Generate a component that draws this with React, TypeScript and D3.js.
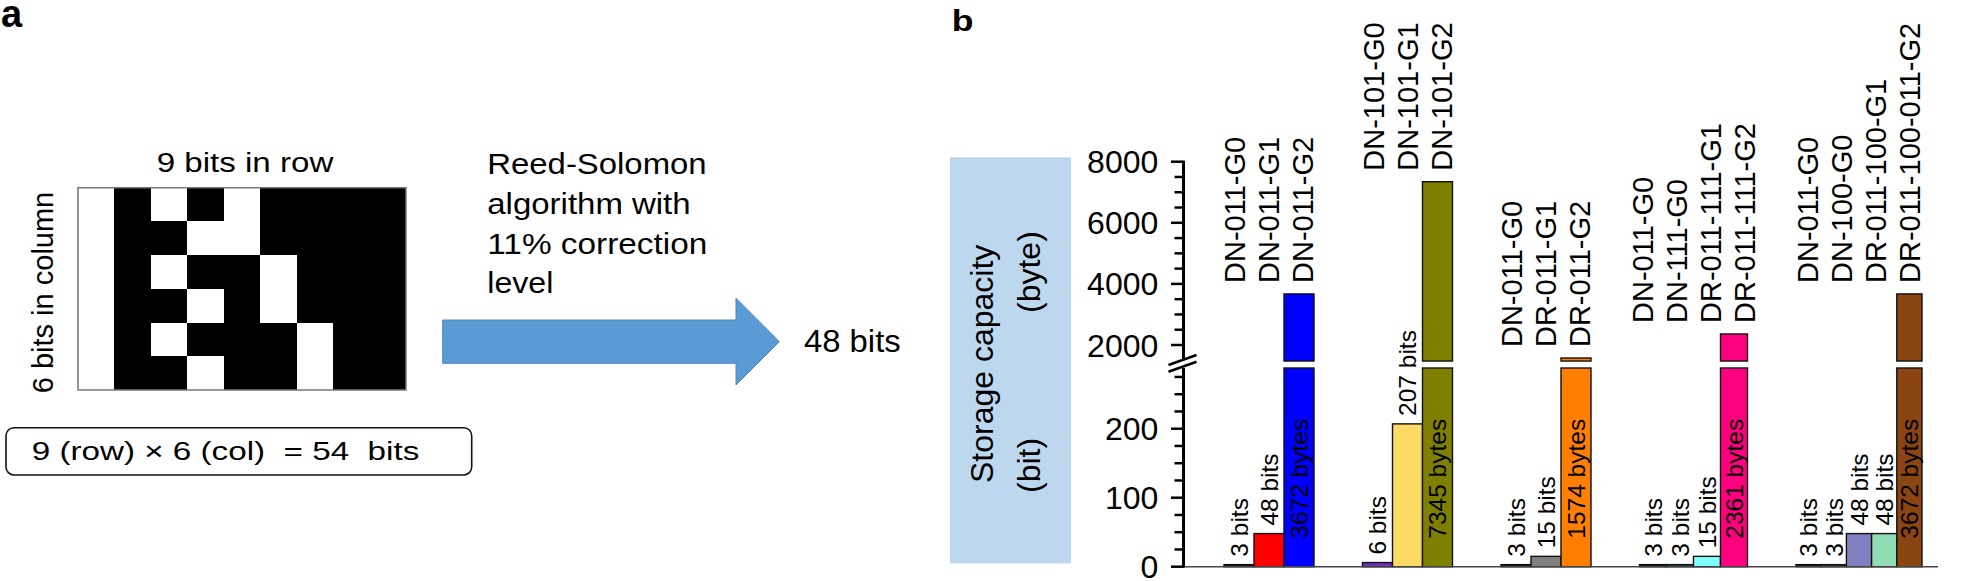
import React from "react";
import * as d3 from "d3";

const FONT = "'Liberation Sans', Arial, Helvetica, sans-serif";

// ---------- panel a data ----------
const bitGrid = [
  "010101111",
  "011001111",
  "010110111",
  "011010111",
  "010111011",
  "011011011",
];
const gridTitle = "9 bits in row";
const gridSideTitle = "6 bits in column";
const gridFormula = "9 (row) \u00d7 6 (col)  = 54  bits";
const rsLines = ["Reed-Solomon", "algorithm with", "11% correction", "level"];
const rsResult = "48 bits";

// ---------- panel b data ----------
const groupKeys = ["DN-011", "DN-101", "DR-011", "DR-011-111", "DR-011-100"];
const groupLabels = [
  ["DN-011-G0", "DN-011-G1", "DN-011-G2"],
  ["DN-101-G0", "DN-101-G1", "DN-101-G2"],
  ["DN-011-G0", "DR-011-G1", "DR-011-G2"],
  ["DN-011-G0", "DN-111-G0", "DR-011-111-G1", "DR-011-111-G2"],
  ["DN-011-G0", "DN-100-G0", "DR-011-100-G1", "DR-011-100-011-G2"],
];
const barValues = [
  [3, 48, 3672],
  [6, 207, 7345],
  [3, 15, 1574],
  [3, 3, 15, 2361],
  [3, 3, 48, 48, 3672],
];
const barUnits = [
  ["bit", "bit", "byte"],
  ["bit", "bit", "byte"],
  ["bit", "bit", "byte"],
  ["bit", "bit", "bit", "byte"],
  ["bit", "bit", "bit", "bit", "byte"],
];
const barColors = [
  ["#1a1a1a", "#ff0000", "#0000ff"],
  ["#7030c0", "#ffd966", "#808000"],
  ["#1a1a1a", "#808080", "#ff8000"],
  ["#1a1a1a", "#1f4f4f", "#80ffff", "#ff0080"],
  ["#1a1a1a", "#4a3030", "#8080c0", "#90dcb5", "#8b4513"],
];
const bitTickLabels = [0, 100, 200];
const byteTickLabels = [2000, 4000, 6000, 8000];
const yTitle = "Storage capacity";
const yUnitTop = "(byte)";
const yUnitBottom = "(bit)";

function HText(props: any) {
  const { x, y, len, size, children, anchor, weight } = props;
  return (
    <text
      x={x}
      y={y}
      fontSize={size}
      fontFamily={FONT}
      fontWeight={weight || "normal"}
      textAnchor={anchor || "start"}
      textLength={len}
      lengthAdjust="spacingAndGlyphs"
      fill="#000"
      style={{ whiteSpace: "pre" }}
    >
      {children}
    </text>
  );
}

function VText(props: any) {
  const { x, y, size, children, anchor, dy } = props;
  return (
    <text
      transform={`translate(${x},${y}) rotate(-90)`}
      fontSize={size}
      fontFamily={FONT}
      textAnchor={anchor || "start"}
      dy={dy === undefined ? "0.36em" : dy}
      fill="#000"
    >
      {children}
    </text>
  );
}

export default function App() {
  const W = 1985;
  const H = 581;

  // ----- panel a -----
  const gx = d3.scaleBand<number>().domain(d3.range(9)).range([78, 406]);
  const gy = d3.scaleBand<number>().domain(d3.range(6)).range([187.7, 390]);

  // ----- panel b scales -----
  const y0 = 566.7;
  const yBit = d3.scaleLinear().domain([0, 288]).range([y0, 368]);
  const yByte = d3.scaleLinear().domain([2000, 8000]).range([345, 161.7]);
  const byteFloor = 1475;
  const bitCeil = 288;
  const axisX = 1183.5;
  const xAxisEnd = 1938;

  const groupStart = 1224;
  const baseW = 90;
  const perExtra = 18;
  const gap = 48.5;
  let cursor = groupStart;
  const groupScales = groupKeys.map((k, gi) => {
    const n = barValues[gi].length;
    const w = baseW + perExtra * (n - 3);
    const s = d3.scaleBand<number>().domain(d3.range(n)).range([cursor, cursor + w]).padding(0);
    cursor += w + gap;
    return s;
  });

  const barTop = (v: number, u: string) => (u === "bit" ? yBit(v) : yByte(v));

  const bitTicks = d3.range(0, 276, 25);
  const byteTicks = d3.range(2000, 8001, 500);

  const gapTop = yByte(byteFloor);
  const gapBot = yBit(bitCeil);
  const gapMid = (gapTop + gapBot) / 2;

  return (
    <svg
      width={W}
      height={H}
      style={{ position: "absolute", left: 0, top: 0, background: "#fff" }}
    >
      <rect x={0} y={0} width={W} height={H} fill="#fff" />

      {/* ================= panel a ================= */}
      <text x={1} y={27} fontSize={38} fontWeight="bold" fontFamily={FONT}>
        a
      </text>

      <HText x={156.7} y={171.7} len={176.6} size={27}>
        {gridTitle}
      </HText>
      <VText x={53} y={292.5} size={29} anchor="middle" dy="0">
        {gridSideTitle}
      </VText>

      <g shapeRendering="crispEdges">
        <rect x={78} y={187.7} width={328} height={202.3} fill="#000" />
        {bitGrid.map((row, ri) =>
          row.split("").map((c, ci) =>
            c === "0" ? (
              <rect
                key={`${ri}-${ci}`}
                x={gx(ci)}
                y={gy(ri)}
                width={gx.bandwidth()}
                height={gy.bandwidth()}
                fill="#fff"
              />
            ) : null
          )
        )}
      </g>
      <rect
        x={78}
        y={187.7}
        width={328}
        height={202.3}
        fill="none"
        stroke="#777"
        strokeWidth={1.5}
      />

      <rect
        x={6}
        y={427.7}
        width={465.7}
        height={47.3}
        rx={8}
        ry={8}
        fill="#fff"
        stroke="#111"
        strokeWidth={1.6}
      />
      <HText x={31.7} y={460} len={387.6} size={26.5}>
        {gridFormula}
      </HText>

      {rsLines.map((l, i) => (
        <HText
          key={l}
          x={487.3}
          y={174 + i * 39.8}
          len={[219.3, 203.3, 220, 66][i]}
          size={29}
        >
          {l}
        </HText>
      ))}

      <polygon
        points="442.7,320 736,320 736,298.3 779.3,341.7 736,385 736,363.3 442.7,363.3"
        fill="#5b9bd5"
        stroke="#4a86c0"
        strokeWidth={1}
      />
      <HText x={804} y={351.7} len={96.7} size={31}>
        {rsResult}
      </HText>

      {/* ================= panel b ================= */}
      <HText x={951.7} y={30.7} len={21.7} size={29} weight="bold">
        b
      </HText>

      {/* y title box */}
      <rect x={950} y={157.3} width={121} height={406} fill="#bdd7ee" />
      <VText x={993} y={483} size={32} dy="0">
        {yTitle}
      </VText>
      <VText x={1040} y={313} size={32} dy="0">
        {yUnitTop}
      </VText>
      <VText x={1040} y={493} size={32} dy="0">
        {yUnitBottom}
      </VText>

      {/* bars */}
      {groupKeys.map((k, gi) => {
        const s = groupScales[gi];
        return (
          <g key={k}>
            {barValues[gi].map((v, bi) => {
              const u = barUnits[gi][bi];
              const x = s(bi)!;
              const w = s.bandwidth();
              const col = barColors[gi][bi];
              if (u === "bit") {
                return (
                  <rect
                    key={bi}
                    x={x}
                    y={yBit(v)}
                    width={w}
                    height={y0 - yBit(v)}
                    fill={col}
                    stroke="#111"
                    strokeWidth={1.4}
                  />
                );
              }
              return (
                <g key={bi}>
                  <rect
                    x={x}
                    y={gapBot}
                    width={w}
                    height={y0 - gapBot}
                    fill={col}
                    stroke="#111"
                    strokeWidth={1.4}
                  />
                  <rect
                    x={x}
                    y={yByte(v)}
                    width={w}
                    height={gapTop - yByte(v)}
                    fill={col}
                    stroke="#111"
                    strokeWidth={1.4}
                  />
                </g>
              );
            })}
          </g>
        );
      })}

      {/* x axis line */}
      <line x1={axisX} x2={xAxisEnd} y1={y0} y2={y0} stroke="#444" strokeWidth={1.5} />

      {/* value labels */}
      {groupKeys.map((k, gi) => {
        const s = groupScales[gi];
        return (
          <g key={`vl-${k}`}>
            {barValues[gi].map((v, bi) => {
              const u = barUnits[gi][bi];
              const cx = s(bi)! + s.bandwidth() / 2;
              const yy = u === "bit" ? yBit(v) - 8 : y0 - 28;
              return (
                <VText key={bi} x={cx} y={yy} size={24.5}>
                  {u === "bit" ? `${v} bits` : `${v} bytes`}
                </VText>
              );
            })}
          </g>
        );
      })}

      {/* category labels */}
      {groupKeys.map((k, gi) => {
        const s = groupScales[gi];
        const [r0, r1] = s.range();
        const center = (r0 + r1) / 2;
        const top = d3.min(barValues[gi].map((v, bi) => barTop(v, barUnits[gi][bi])))!;
        const labs = groupLabels[gi];
        const m = labs.length;
        return (
          <g key={`cl-${k}`}>
            {labs.map((l, li) => (
              <VText key={li} x={center + (li - (m - 1) / 2) * 34} y={top - 11} size={29}>
                {l}
              </VText>
            ))}
          </g>
        );
      })}

      {/* y axis lower (bit) */}
      <line x1={axisX} x2={axisX} y1={gapBot} y2={y0 + 1} stroke="#000" strokeWidth={3} />
      {bitTicks.map((t) => (
        <line
          key={`bt${t}`}
          x1={bitTickLabels.includes(t) ? axisX - 12.5 : axisX - 9}
          x2={axisX}
          y1={yBit(t)}
          y2={yBit(t)}
          stroke="#000"
          strokeWidth={2.5}
        />
      ))}
      {bitTickLabels.map((t) => (
        <text
          key={`btl${t}`}
          x={1158.3}
          y={yBit(t)}
          dy="0.36em"
          textAnchor="end"
          fontSize={32}
          fontFamily={FONT}
        >
          {t}
        </text>
      ))}

      {/* y axis upper (byte) */}
      <line x1={axisX} x2={axisX} y1={yByte(8000) - 1} y2={gapTop - 2} stroke="#000" strokeWidth={3} />
      {byteTicks.map((t) => (
        <line
          key={`yt${t}`}
          x1={byteTickLabels.includes(t) ? axisX - 12.5 : axisX - 9}
          x2={axisX}
          y1={yByte(t)}
          y2={yByte(t)}
          stroke="#000"
          strokeWidth={2.5}
        />
      ))}
      {byteTickLabels.map((t) => (
        <text
          key={`ytl${t}`}
          x={1158.3}
          y={yByte(t)}
          dy="0.36em"
          textAnchor="end"
          fontSize={32}
          fontFamily={FONT}
        >
          {t}
        </text>
      ))}

      {/* axis break marks */}
      <line
        x1={axisX - 15}
        y1={gapMid + 0.5}
        x2={axisX + 13}
        y2={gapMid - 9.5}
        stroke="#000"
        strokeWidth={2.5}
      />
      <line
        x1={axisX - 15}
        y1={gapMid + 7.2}
        x2={axisX + 13}
        y2={gapMid - 2.8}
        stroke="#000"
        strokeWidth={2.5}
      />
    </svg>
  );
}
